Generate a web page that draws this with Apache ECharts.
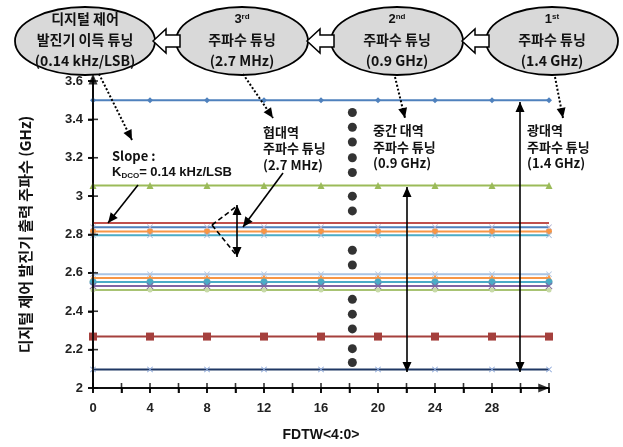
<!DOCTYPE html>
<html>
<head>
<meta charset="utf-8">
<script src="https://cdn.jsdelivr.net/npm/echarts@6/dist/echarts.min.js"></script>
<style>html,body{margin:0;padding:0;background:#fff}#main{width:623px;height:447px}</style>
</head>
<body>
<div id="main"></div>
<script>
// FDTW code (x) and DCO output frequency (GHz) for each tuning bank
var fdtw = [0, 4, 8, 12, 16, 20, 24, 28, 32];
var yTicks = [2, 2.2, 2.4, 2.6, 2.8, 3, 3.2, 3.4, 3.6];
var xTicks = [0, 2, 4, 6, 8, 10, 12, 14, 16, 18, 20, 22, 24, 26, 28, 30, 32];
var xLabels = [0, 4, 8, 12, 16, 20, 24, 28];

var f350 = [3.50, 3.50, 3.50, 3.50, 3.50, 3.50, 3.50, 3.50, 3.50];
var f305 = [3.055, 3.055, 3.055, 3.055, 3.055, 3.055, 3.055, 3.055, 3.055];
var f286 = [2.860, 2.860, 2.860, 2.860, 2.860, 2.860, 2.860, 2.860, 2.860];
var f284 = [2.838, 2.838, 2.838, 2.838, 2.838, 2.838, 2.838, 2.838, 2.838];
var f281 = [2.815, 2.815, 2.815, 2.815, 2.815, 2.815, 2.815, 2.815, 2.815];
var f280 = [2.796, 2.796, 2.796, 2.796, 2.796, 2.796, 2.796, 2.796, 2.796];
var f259 = [2.593, 2.593, 2.593, 2.593, 2.593, 2.593, 2.593, 2.593, 2.593];
var f257 = [2.573, 2.573, 2.573, 2.573, 2.573, 2.573, 2.573, 2.573, 2.573];
var f255 = [2.552, 2.552, 2.552, 2.552, 2.552, 2.552, 2.552, 2.552, 2.552];
var f253 = [2.532, 2.532, 2.532, 2.532, 2.532, 2.532, 2.532, 2.532, 2.532];
var f251 = [2.511, 2.511, 2.511, 2.511, 2.511, 2.511, 2.511, 2.511, 2.511];
var f227 = [2.268, 2.268, 2.268, 2.268, 2.268, 2.268, 2.268, 2.268, 2.268];
var f210 = [2.097, 2.097, 2.097, 2.097, 2.097, 2.097, 2.097, 2.097, 2.097];

// the column of "..." dots between bank groups
var dotX = [18.2, 18.2, 18.2, 18.2, 18.2, 18.2, 18.2, 18.2, 18.2, 18.2, 18.2, 18.2, 18.2, 18.2];
var dotY = [3.436, 3.359, 3.282, 3.2, 3.123, 3.0, 2.923, 2.718, 2.641, 2.462, 2.385, 2.308, 2.205, 2.133];

var X_MARK = 'path://M0,1L1,0L5,4L9,0L10,1L6,5L10,9L9,10L5,6L1,10L0,9L4,5Z';

function band(data, color, symbol, size, markColor) {
    return {
        type: 'line',
        data: fdtw.map(function (x, i) { return [x, data[i]]; }),
        symbol: symbol,
        symbolSize: size,
        showSymbol: symbol !== 'none',
        lineStyle: { color: color, width: 2 },
        itemStyle: { color: markColor || color },
        z: 3,
        animation: false
    };
}

// axis line, ticks and arrow heads drawn as series so they follow the scales
function axisPart(type, data, extra) {
    var s = {
        type: type, data: data, clip: false, silent: true, animation: false, z: 10,
        symbol: 'none', lineStyle: { color: '#000', width: 1.6 }, itemStyle: { color: '#000' }
    };
    for (var k in extra) s[k] = extra[k];
    return s;
}

var KR = '"Noto Sans CJK KR", sans-serif';
var LAT = '"Liberation Sans", Arial, sans-serif';

function txt(x, y, text, size, align) {
    return {
        type: 'text', z: 20,
        style: {
            x: x, y: y, text: text, fill: '#111',
            fontSize: size || 13, fontWeight: 'bold', fontFamily: KR,
            textAlign: align || 'left', textVerticalAlign: 'middle'
        }
    };
}

function head(x1, y1, x2, y2) {
    var a = Math.atan2(y2 - y1, x2 - x1), L = 10, W = 4.5;
    var bx = x2 - L * Math.cos(a), by = y2 - L * Math.sin(a);
    return {
        type: 'polygon', z: 20,
        shape: { points: [[x2, y2], [bx - W * Math.sin(a), by + W * Math.cos(a)], [bx + W * Math.sin(a), by - W * Math.cos(a)]] },
        style: { fill: '#000' }
    };
}

function arrow(x1, y1, x2, y2, dash, both) {
    var out = [{
        type: 'line', z: 20,
        shape: { x1: x1, y1: y1, x2: x2, y2: y2 },
        style: { stroke: '#000', lineWidth: dash === 'dot' ? 2 : 1.6, lineDash: dash === 'dot' ? [2, 2] : (dash === 'dash' ? [5, 3] : null) }
    }];
    if (both !== 'none') out.push(head(x1, y1, x2, y2));
    if (both === 'both') out.push(head(x2, y2, x1, y1));
    return out;
}

function bubble(cx, l1, l2, l3) {
    return [{
        type: 'ellipse', z: 15,
        shape: { cx: cx, cy: 41, rx: 66, ry: 34 },
        style: { fill: '#D9D9D9', stroke: '#000', lineWidth: 1.8 }
    }, {
        type: 'text', z: 16,
        style: {
            x: cx, y: 19, text: l1, fill: '#111', textAlign: 'center', textVerticalAlign: 'middle',
            font: 'bold 13px ' + KR,
            rich: {
                n: { fontSize: 13, fontWeight: 'bold', fontFamily: LAT },
                s: { fontSize: 8, fontWeight: 'bold', fontFamily: LAT, verticalAlign: 'top', lineHeight: 8, padding: [0, 0, 6, 0] }
            }
        }
    }, txt(cx, 40, l2, 14, 'center'), txt(cx, 61, l3, 14, 'center')];
}

function blockArrow(tip) {
    return {
        type: 'polygon', z: 17,
        shape: { points: [[tip, 41], [tip + 13, 29], [tip + 13, 35], [tip + 27, 35], [tip + 27, 47], [tip + 13, 47], [tip + 13, 53]] },
        style: { fill: '#fff', stroke: '#000', lineWidth: 1.5 }
    };
}

var graphics = [].concat(
    [{ type: 'ellipse', z: 15, shape: { cx: 85, cy: 41, rx: 70, ry: 34 }, style: { fill: '#D9D9D9', stroke: '#000', lineWidth: 1.8 } },
     txt(85, 19, '디지털 제어', 14, 'center'), txt(85, 40, '발진기 이득 튜닝', 14, 'center'), txt(85, 61, '(0.14 kHz/LSB)', 14, 'center')],
    bubble(242, '{n|3}{s|rd}', '주파수 튜닝', '(2.7 MHz)'),
    bubble(397, '{n|2}{s|nd}', '주파수 튜닝', '(0.9 GHz)'),
    bubble(552, '{n|1}{s|st}', '주파수 튜닝', '(1.4 GHz)'),
    [blockArrow(153), blockArrow(307), blockArrow(462)],
    arrow(99, 74, 132, 140, 'dot'),
    arrow(243, 74, 273, 118, 'dot'),
    arrow(395, 77, 405, 118, 'dot'),
    arrow(555, 77, 563, 118, 'dot'),
    [txt(112, 156, 'Slope :'),
     {
        type: 'text', z: 20,
        style: {
            x: 112, y: 172, text: '{b|K}{s|DCO}{b|= 0.14 kHz/LSB}', textVerticalAlign: 'middle',
            rich: {
                b: { fontSize: 13, fontWeight: 'bold', fontFamily: LAT, fill: '#111', lineHeight: 16 },
                s: { fontSize: 8, fontWeight: 'bold', fontFamily: LAT, fill: '#111', verticalAlign: 'bottom', lineHeight: 10 }
            }
        }
     },
     txt(263, 132, '협대역'), txt(263, 148, '주파수 튜닝'), txt(263, 165, '(2.7 MHz)'),
     txt(373, 130, '중간 대역'), txt(373, 147, '주파수 튜닝'), txt(373, 163, '(0.9 GHz)'),
     txt(527, 130, '광대역'), txt(527, 147, '주파수 튜닝'), txt(527, 163, '(1.4 GHz)')],
    arrow(138, 185, 108, 223, 'solid'),
    arrow(283, 173, 243, 227, 'solid'),
    arrow(237, 205, 237, 257, 'solid', 'both'),
    arrow(212, 225, 237, 206, 'dash', 'none'),
    arrow(212, 225, 237, 256, 'dash', 'none'),
    arrow(407, 187, 407, 372, 'solid', 'both'),
    arrow(520, 102, 520, 372, 'solid', 'both')
);

var yMin = yTicks[0], yMax = yTicks[yTicks.length - 1];

var option = {
    animation: false,
    backgroundColor: '#fff',
    grid: { left: 93, right: 74, top: 81, bottom: 54 },
    xAxis: {
        type: 'value', min: 0, max: 32, interval: 2,
        axisLine: { show: true, onZero: false, lineStyle: { color: '#000', width: 1.6 } },
        axisTick: { show: true, length: 5, lineStyle: { color: '#000', width: 1.6 } },
        axisLabel: {
            margin: 14, color: '#222', fontSize: 13, fontWeight: 'bold', fontFamily: LAT,
            formatter: function (v) { return xLabels.indexOf(v) >= 0 ? String(v) : ''; }
        },
        splitLine: { show: false },
        name: 'FDTW<4:0>', nameLocation: 'middle', nameGap: 40,
        nameTextStyle: { color: '#111', fontSize: 14, fontWeight: 'bold', fontFamily: LAT }
    },
    yAxis: {
        type: 'value', min: yMin, max: yMax, interval: 0.2,
        axisLine: { show: true, onZero: false, lineStyle: { color: '#000', width: 1.6 } },
        axisTick: { show: true, length: 5, lineStyle: { color: '#000', width: 1.6 } },
        axisLabel: {
            margin: 10, color: '#222', fontSize: 13, fontWeight: 'bold', fontFamily: LAT,
            formatter: function (v) { return String(Math.round(v * 10) / 10); }
        },
        splitLine: { show: false },
        name: '디지털 제어 발진기 출력 주파수 (GHz)', nameLocation: 'middle', nameGap: 60, nameRotate: 90,
        nameTextStyle: { color: '#111', fontSize: 15, fontWeight: 'bold', fontFamily: KR }
    },
    series: [
        band(f350, '#4F81BD', 'diamond', 6),
        band(f305, '#9BBB59', 'triangle', 7),
        band(f286, '#C0504D', 'none', 0),
        band(f284, '#4F81BD', X_MARK, 6, '#B4B4D4'),
        band(f281, '#F79646', 'circle', 6),
        band(f280, '#4BACC6', X_MARK, 6, '#9DB8D8'),
        band(f259, '#A9C4E4', X_MARK, 6, '#B4C8E2'),
        band(f257, '#F79646', 'triangle', 7),
        band(f255, '#4BACC6', 'circle', 7),
        band(f253, '#8064A2', X_MARK, 7),
        band(f251, '#A8C373', 'circle', 5, '#C8DAA8'),
        band(f227, '#A5403D', 'rect', 8),
        band(f210, '#1F3864', X_MARK, 6, '#8EA9DB'),
        {
            type: 'scatter',
            data: dotX.map(function (x, i) { return [x, dotY[i]]; }),
            symbol: 'circle', symbolSize: 9,
            itemStyle: { color: '#000' },
            z: 5, animation: false
        },
        axisPart('line', [[0, yMin], [32, yMin]]),
        axisPart('line', [[0, yMin], [0, yMax + 0.02]]),
        axisPart('scatter', xTicks.map(function (t) { return [t, yMin]; }), { symbol: 'rect', symbolSize: [1.6, 10] }),
        axisPart('scatter', yTicks.map(function (t) { return [0, t]; }), { symbol: 'rect', symbolSize: [10, 1.6] }),
        axisPart('scatter', [[31.63, yMin]], { symbol: 'triangle', symbolSize: [9, 11], symbolRotate: -90 }),
        axisPart('scatter', [[0, yMax + 0.01]], { symbol: 'triangle', symbolSize: [9, 11] })
    ],
    graphic: graphics
};

var chart = echarts.init(document.getElementById('main'));
chart.setOption(option);
</script>
</body>
</html>
